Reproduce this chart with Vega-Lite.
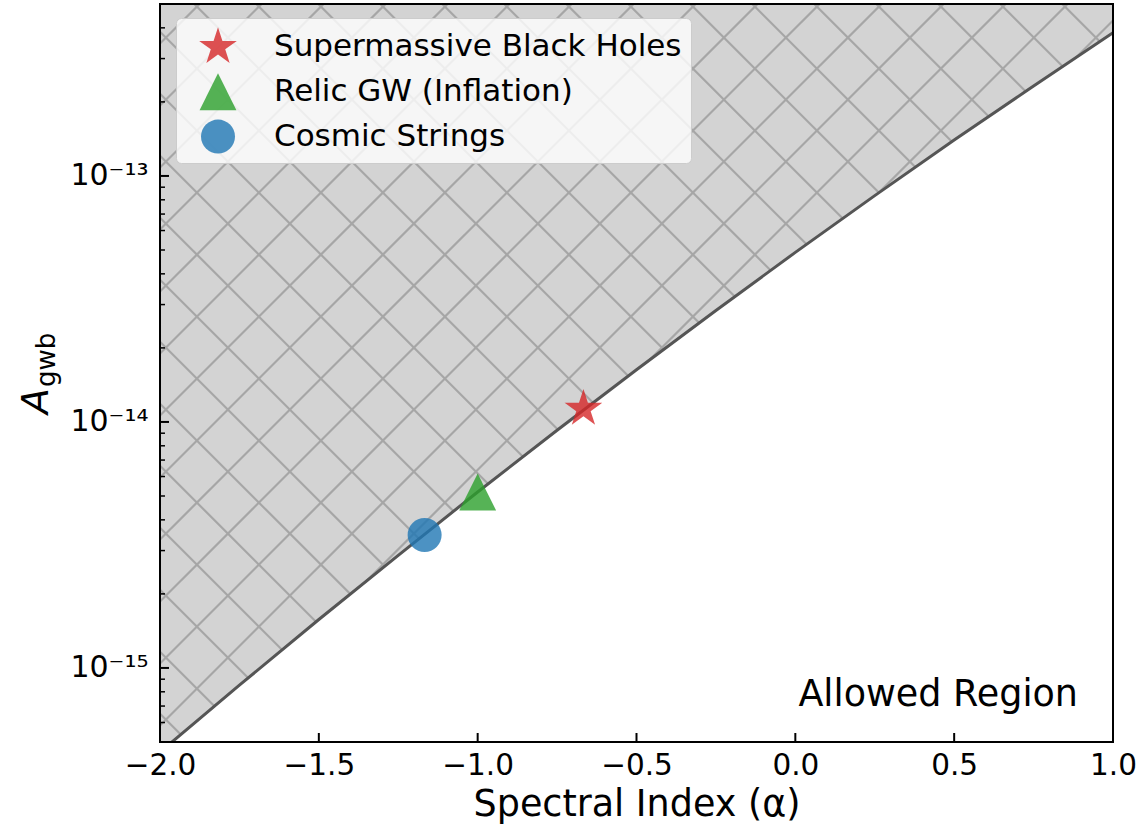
{
  "$schema": "https://vega.github.io/schema/vega-lite/v6.json",
  "width": 953,
  "height": 738,
  "autosize": {"type": "none"},
  "padding": {"left": 160, "top": 4, "right": 32, "bottom": 91},
  "background": "white",
  "config": {
    "font": "DejaVu Sans",
    "view": {"fill": "#d3d3d3", "stroke": null},
    "axis": {"labelFont": "DejaVu Sans", "titleFont": "DejaVu Sans", "labelColor": "black", "titleColor": "black"},
    "legend": {"labelFont": "DejaVu Sans"}
  },
  "datasets": {
    "hatch": [
      {"a1": -2, "l1": -15.1860, "a2": 1, "l2": -19.0600},
      {"a1": -2, "l1": -14.9340, "a2": 1, "l2": -18.8080},
      {"a1": -2, "l1": -14.6819, "a2": 1, "l2": -18.5559},
      {"a1": -2, "l1": -14.4299, "a2": 1, "l2": -18.3039},
      {"a1": -2, "l1": -14.1779, "a2": 1, "l2": -18.0519},
      {"a1": -2, "l1": -13.9258, "a2": 1, "l2": -17.7998},
      {"a1": -2, "l1": -13.6738, "a2": 1, "l2": -17.5478},
      {"a1": -2, "l1": -13.4218, "a2": 1, "l2": -17.2958},
      {"a1": -2, "l1": -13.1697, "a2": 1, "l2": -17.0437},
      {"a1": -2, "l1": -12.9177, "a2": 1, "l2": -16.7917},
      {"a1": -2, "l1": -12.6657, "a2": 1, "l2": -16.5397},
      {"a1": -2, "l1": -12.4136, "a2": 1, "l2": -16.2876},
      {"a1": -2, "l1": -12.1616, "a2": 1, "l2": -16.0356},
      {"a1": -2, "l1": -11.9096, "a2": 1, "l2": -15.7836},
      {"a1": -2, "l1": -11.6575, "a2": 1, "l2": -15.5315},
      {"a1": -2, "l1": -11.4055, "a2": 1, "l2": -15.2795},
      {"a1": -2, "l1": -11.1535, "a2": 1, "l2": -15.0275},
      {"a1": -2, "l1": -10.9014, "a2": 1, "l2": -14.7754},
      {"a1": -2, "l1": -10.6494, "a2": 1, "l2": -14.5234},
      {"a1": -2, "l1": -10.3974, "a2": 1, "l2": -14.2714},
      {"a1": -2, "l1": -10.1453, "a2": 1, "l2": -14.0193},
      {"a1": -2, "l1": -9.8933, "a2": 1, "l2": -13.7673},
      {"a1": -2, "l1": -9.6413, "a2": 1, "l2": -13.5153},
      {"a1": -2, "l1": -9.3892, "a2": 1, "l2": -13.2632},
      {"a1": -2, "l1": -9.1372, "a2": 1, "l2": -13.0112},
      {"a1": -2, "l1": -8.8852, "a2": 1, "l2": -12.7592},
      {"a1": -2, "l1": -8.6331, "a2": 1, "l2": -12.5071},
      {"a1": -2, "l1": -12.4616, "a2": 1, "l2": -8.5876},
      {"a1": -2, "l1": -12.7136, "a2": 1, "l2": -8.8396},
      {"a1": -2, "l1": -12.9657, "a2": 1, "l2": -9.0917},
      {"a1": -2, "l1": -13.2177, "a2": 1, "l2": -9.3437},
      {"a1": -2, "l1": -13.4697, "a2": 1, "l2": -9.5957},
      {"a1": -2, "l1": -13.7218, "a2": 1, "l2": -9.8478},
      {"a1": -2, "l1": -13.9738, "a2": 1, "l2": -10.0998},
      {"a1": -2, "l1": -14.2258, "a2": 1, "l2": -10.3518},
      {"a1": -2, "l1": -14.4779, "a2": 1, "l2": -10.6039},
      {"a1": -2, "l1": -14.7299, "a2": 1, "l2": -10.8559},
      {"a1": -2, "l1": -14.9819, "a2": 1, "l2": -11.1079},
      {"a1": -2, "l1": -15.2340, "a2": 1, "l2": -11.3600},
      {"a1": -2, "l1": -15.4860, "a2": 1, "l2": -11.6120},
      {"a1": -2, "l1": -15.7380, "a2": 1, "l2": -11.8640},
      {"a1": -2, "l1": -15.9901, "a2": 1, "l2": -12.1161},
      {"a1": -2, "l1": -16.2421, "a2": 1, "l2": -12.3681},
      {"a1": -2, "l1": -16.4941, "a2": 1, "l2": -12.6201},
      {"a1": -2, "l1": -16.7462, "a2": 1, "l2": -12.8722},
      {"a1": -2, "l1": -16.9982, "a2": 1, "l2": -13.1242},
      {"a1": -2, "l1": -17.2502, "a2": 1, "l2": -13.3762},
      {"a1": -2, "l1": -17.5023, "a2": 1, "l2": -13.6283},
      {"a1": -2, "l1": -17.7543, "a2": 1, "l2": -13.8803},
      {"a1": -2, "l1": -18.0063, "a2": 1, "l2": -14.1323},
      {"a1": -2, "l1": -18.2584, "a2": 1, "l2": -14.3844},
      {"a1": -2, "l1": -18.5104, "a2": 1, "l2": -14.6364},
      {"a1": -2, "l1": -18.7624, "a2": 1, "l2": -14.8884},
      {"a1": -2, "l1": -19.0145, "a2": 1, "l2": -15.1405}
    ],
    "curve": [
      {"alpha": -2.0, "A": 4.55e-16},
      {"alpha": -1.75, "A": 8.51e-16},
      {"alpha": -1.5, "A": 1.574e-15},
      {"alpha": -1.25, "A": 2.87e-15},
      {"alpha": -1.0, "A": 5.19e-15},
      {"alpha": -0.75, "A": 9.25e-15},
      {"alpha": -0.5, "A": 1.63e-14},
      {"alpha": -0.25, "A": 2.84e-14},
      {"alpha": 0.0, "A": 4.89e-14},
      {"alpha": 0.25, "A": 8.32e-14},
      {"alpha": 0.5, "A": 1.40e-13},
      {"alpha": 0.75, "A": 2.32e-13},
      {"alpha": 1.0, "A": 3.82e-13}
    ],
    "sources": [
      {"name": "Supermassive Black Holes", "alpha": -0.667, "A": 1.131e-14},
      {"name": "Relic GW (Inflation)", "alpha": -1.0, "A": 5.19e-15},
      {"name": "Cosmic Strings", "alpha": -1.167, "A": 3.47e-15}
    ],
    "xticks": [{"v": -2}, {"v": -1.5}, {"v": -1}, {"v": -0.5}, {"v": 0}, {"v": 0.5}, {"v": 1}],
    "ymajor": [{"v": 1e-15}, {"v": 1e-14}, {"v": 1e-13}],
    "yminor": [
      {"v": 6e-16}, {"v": 7e-16}, {"v": 8e-16}, {"v": 9e-16},
      {"v": 2e-15}, {"v": 3e-15}, {"v": 4e-15}, {"v": 5e-15}, {"v": 6e-15}, {"v": 7e-15}, {"v": 8e-15}, {"v": 9e-15},
      {"v": 2e-14}, {"v": 3e-14}, {"v": 4e-14}, {"v": 5e-14}, {"v": 6e-14}, {"v": 7e-14}, {"v": 8e-14}, {"v": 9e-14},
      {"v": 2e-13}, {"v": 3e-13}, {"v": 4e-13}
    ]
  },
  "resolve": {"scale": {"y": "independent"}},
  "layer": [
    {
      "data": {"name": "hatch"},
      "mark": {"type": "rule", "color": "#a6a6a6", "strokeWidth": 2.2, "clip": true},
      "encoding": {
        "x": {"field": "a1", "type": "quantitative", "scale": {"domain": [-2, 1], "nice": false, "zero": false}, "axis": {
          "values": [-2, -1.5, -1, -0.5, 0, 0.5, 1],
          "labelExpr": "replace(format(datum.value, '.1f'), '-', '−')",
          "domain": false, "ticks": false, "grid": false,
          "labelFontSize": 29.5, "labelPadding": 9, "labelFlush": false, "labelOverlap": false,
          "title": "Spectral Index (α)", "titleFontSize": 36.5, "titleFontWeight": "normal", "titlePadding": 7
        }},
        "x2": {"field": "a2"},
        "y": {"field": "l1", "type": "quantitative", "scale": {"type": "linear", "domain": [-15.30103, -12.30103], "nice": false, "zero": false}, "axis": null},
        "y2": {"field": "l2"}
      }
    },
    {
      "layer": [
        {
          "data": {"name": "curve"},
          "mark": {"type": "area", "color": "white", "clip": true, "interpolate": "monotone"},
          "encoding": {
            "x": {"field": "alpha", "type": "quantitative"},
            "y": {"field": "A", "type": "quantitative", "scale": {"type": "log", "domain": [5e-16, 5e-13], "nice": false}, "axis": {
              "orient": "left",
              "values": [1e-15, 1e-14, 1e-13],
              "labelExpr": "datum.value < 5e-15 ? '10⁻¹⁵' : (datum.value < 5e-14 ? '10⁻¹⁴' : '10⁻¹³')",
              "domain": false, "ticks": false, "grid": false,
              "labelFontSize": 30, "labelPadding": 12, "title": null
            }},
            "y2": {"datum": 1e-17}
          }
        },
        {
          "data": {"name": "curve"},
          "mark": {"type": "line", "color": "#555555", "strokeWidth": 3, "clip": true, "interpolate": "monotone"},
          "encoding": {
            "x": {"field": "alpha", "type": "quantitative"},
            "y": {"field": "A", "type": "quantitative"}
          }
        },
        {
          "data": {"name": "sources"},
          "mark": {"type": "point", "filled": true, "opacity": 0.8, "strokeWidth": 0},
          "encoding": {
            "x": {"field": "alpha", "type": "quantitative"},
            "y": {"field": "A", "type": "quantitative"},
            "color": {"field": "name", "type": "nominal",
              "scale": {"domain": ["Supermassive Black Holes", "Relic GW (Inflation)", "Cosmic Strings"], "range": ["#d62728", "#2ca02c", "#1f77b4"]},
              "legend": {
                "title": null, "orient": "none", "legendX": 16, "legendY": 14,
                "padding": 9, "labelFontSize": 31, "labelLimit": 700, "labelColor": "black",
                "symbolOffset": 13, "labelOffset": 36, "rowPadding": 9.3,
                "fillColor": "rgba(255,255,255,0.8)", "strokeColor": "#cccccc", "cornerRadius": 5,
                "symbolStrokeWidth": 0
              }},
            "shape": {"field": "name", "type": "nominal",
              "scale": {"domain": ["Supermassive Black Holes", "Relic GW (Inflation)", "Cosmic Strings"], "range": ["M0,-1L0.2245,-0.309L0.9511,-0.309L0.3633,0.118L0.5878,0.809L0,0.382L-0.5878,0.809L-0.3633,0.118L-0.9511,-0.309L-0.2245,-0.309Z", "M0,-1L1,1L-1,1Z", "circle"]}},
            "size": {"field": "name", "type": "nominal",
              "scale": {"domain": ["Supermassive Black Holes", "Relic GW (Inflation)", "Cosmic Strings"], "range": [1568, 1156, 1111]}}
          }
        },
        {
          "data": {"name": "xticks"},
          "mark": {"type": "rule", "color": "black", "strokeWidth": 2},
          "encoding": {
            "x": {"field": "v", "type": "quantitative"},
            "y": {"datum": 5e-16},
            "y2": {"datum": 5.44e-16}
          }
        },
        {
          "data": {"name": "ymajor"},
          "mark": {"type": "rule", "color": "black", "strokeWidth": 2},
          "encoding": {
            "y": {"field": "v", "type": "quantitative"},
            "x": {"datum": -2},
            "x2": {"datum": -1.9717}
          }
        },
        {
          "data": {"name": "yminor"},
          "mark": {"type": "rule", "color": "black", "strokeWidth": 1.5},
          "encoding": {
            "y": {"field": "v", "type": "quantitative"},
            "x": {"datum": -2},
            "x2": {"datum": -1.9843}
          }
        },
        {
          "data": {"values": [{"t": "Allowed Region"}]},
          "mark": {"type": "text", "fontSize": 36.5, "align": "right", "baseline": "alphabetic", "dx": -35, "dy": -36, "color": "black"},
          "encoding": {
            "x": {"datum": 1},
            "y": {"datum": 5e-16},
            "text": {"field": "t"}
          }
        },
        {
          "data": {"values": [{"t": "A"}]},
          "mark": {"type": "text", "fontSize": 38, "fontStyle": "italic", "angle": 270, "align": "left", "baseline": "alphabetic", "dx": 8, "dy": -112, "color": "black"},
          "encoding": {
            "x": {"datum": -2},
            "y": {"datum": 1e-14},
            "text": {"field": "t"}
          }
        },
        {
          "data": {"values": [{"t": "gwb"}]},
          "mark": {"type": "text", "fontSize": 26, "angle": 270, "align": "left", "baseline": "alphabetic", "dx": 35, "dy": -105, "color": "black"},
          "encoding": {
            "x": {"datum": -2},
            "y": {"datum": 1e-14},
            "text": {"field": "t"}
          }
        },
        {
          "data": {"values": [{"t": "frame"}]},
          "mark": {"type": "rect", "fillOpacity": 0, "stroke": "black", "strokeWidth": 2, "clip": false},
          "encoding": {
            "x": {"datum": -2},
            "x2": {"datum": 1},
            "y": {"datum": 5e-16},
            "y2": {"datum": 5e-13}
          }
        }
      ]
    }
  ]
}
